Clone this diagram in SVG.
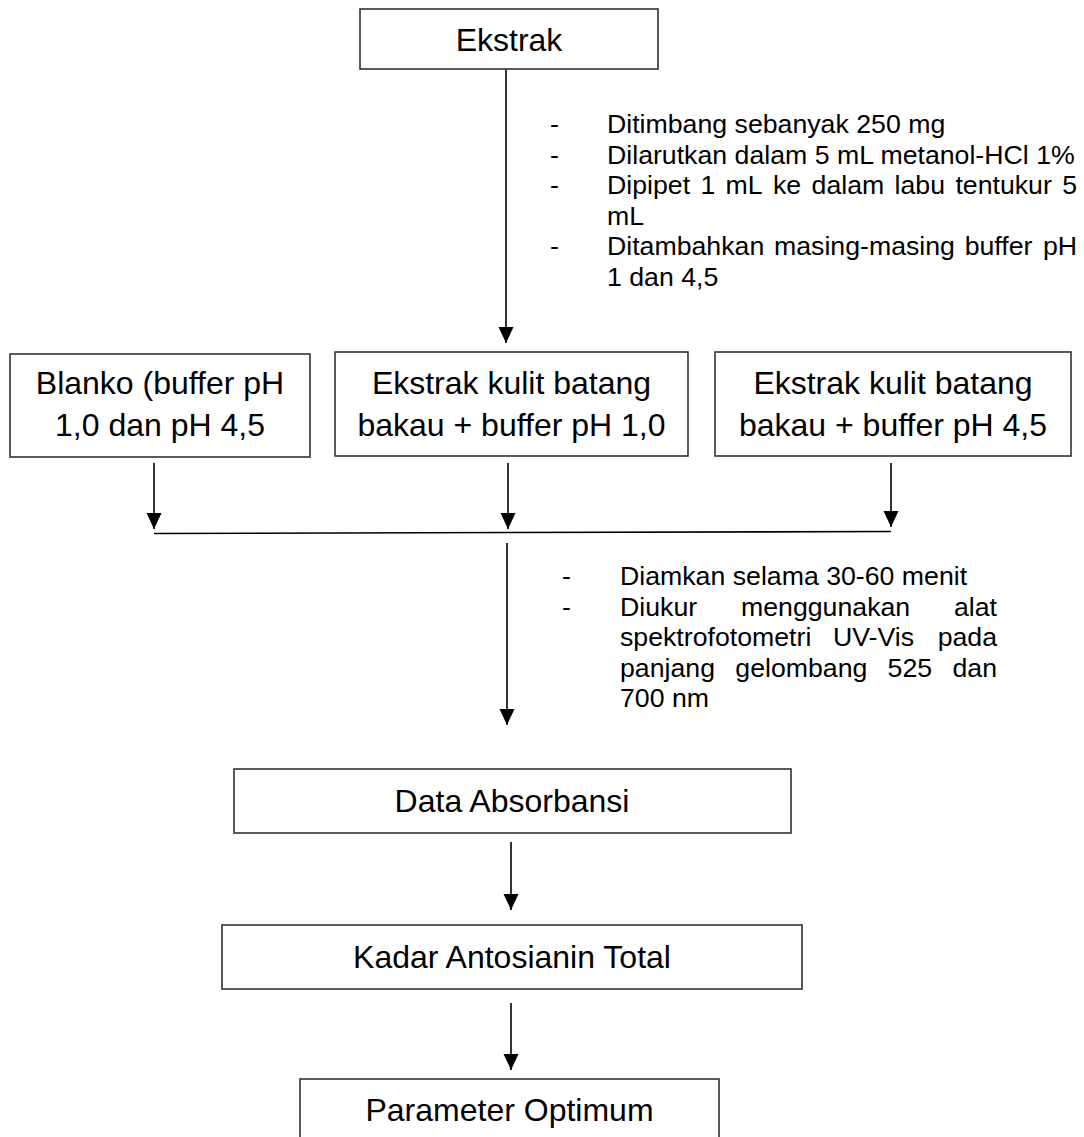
<svg xmlns="http://www.w3.org/2000/svg" width="1084" height="1137" viewBox="0 0 1084 1137">
<style>
.box{fill:#fff;stroke:#333;stroke-width:1.6}
.bt{font-family:"Liberation Sans",Arial,sans-serif;font-size:32px;fill:#000;text-anchor:middle}
.lt{font-family:"Liberation Sans",Arial,sans-serif;font-size:26.7px;fill:#000}
.ln{stroke:#000;stroke-width:1.6;fill:none}
.ar{stroke:#000;stroke-width:1.6;fill:none;marker-end:url(#ah)}
</style>
<defs>
<marker id="ah" markerUnits="userSpaceOnUse" markerWidth="16" markerHeight="16" refX="16" refY="7.5" orient="auto">
<path d="M0,0 L16,7.5 L0,15 z" fill="#000"/>
</marker>
</defs>
<rect width="1084" height="1137" fill="#fff"/>
<g id="connectors">
<line class="ar" x1="506" y1="69" x2="506" y2="343"/>
<line class="ar" x1="154" y1="463" x2="154" y2="529"/>
<line class="ar" x1="508" y1="463" x2="508" y2="529"/>
<line class="ar" x1="891" y1="463" x2="891" y2="527"/>
<line class="ln" x1="154" y1="533.5" x2="891" y2="531.5" stroke-width="2"/>
<line class="ar" x1="507" y1="543" x2="507" y2="725"/>
<line class="ar" x1="511" y1="842" x2="511" y2="910"/>
<line class="ar" x1="511" y1="1003" x2="511" y2="1070"/>
</g>
<g id="node-ekstrak">
<rect class="box" x="360" y="9" width="298" height="60"/>
<text class="bt" x="509" y="51">Ekstrak</text>
</g>
<g id="notes-1" class="lt">
<text x="550" y="133">-</text><text x="607" y="133">Ditimbang sebanyak 250 mg</text>
<text x="550" y="164">-</text><text x="607" y="164">Dilarutkan dalam 5 mL metanol-HCl 1%</text>
<text x="550" y="194">-</text>
<text y="194"><tspan x="607">Dipipet</tspan><tspan x="700.4">1</tspan><tspan x="725.6">mL</tspan><tspan x="773">ke</tspan><tspan x="811.6">dalam</tspan><tspan x="894.6">labu</tspan><tspan x="955.4">tentukur</tspan><tspan x="1062.2">5</tspan></text>
<text x="607" y="225">mL</text>
<text x="550" y="255">-</text>
<text y="255"><tspan x="607">Ditambahkan</tspan><tspan x="774">masing-masing</tspan><tspan x="964.7">buffer</tspan><tspan x="1042.9">pH</tspan></text>
<text x="607" y="286">1 dan 4,5</text>
</g>
<g id="node-blanko">
<rect class="box" x="10" y="354" width="300" height="103"/>
<text class="bt" x="160" y="394">Blanko (buffer pH</text>
<text class="bt" x="160" y="436">1,0 dan pH 4,5</text>
</g>
<g id="node-ph1">
<rect class="box" x="335" y="352" width="353" height="104"/>
<text class="bt" x="511.5" y="394">Ekstrak kulit batang</text>
<text class="bt" x="511.5" y="436">bakau + buffer pH 1,0</text>
</g>
<g id="node-ph45">
<rect class="box" x="715" y="352" width="356" height="104"/>
<text class="bt" x="893" y="394">Ekstrak kulit batang</text>
<text class="bt" x="893" y="436">bakau + buffer pH 4,5</text>
</g>
<g id="notes-2" class="lt">
<text x="562" y="585">-</text><text x="620" y="585">Diamkan selama 30-60 menit</text>
<text x="562" y="616">-</text>
<text y="616"><tspan x="620">Diukur</tspan><tspan x="741">menggunakan</tspan><tspan x="997" text-anchor="end">alat</tspan></text>
<text y="646"><tspan x="620">spektrofotometri</tspan><tspan x="833">UV-Vis</tspan><tspan x="997" text-anchor="end">pada</tspan></text>
<text y="677"><tspan x="620">panjang</tspan><tspan x="735.3">gelombang</tspan><tspan x="887.6">525</tspan><tspan x="997" text-anchor="end">dan</tspan></text>
<text x="620" y="707">700 nm</text>
</g>
<g id="node-data">
<rect class="box" x="234" y="769" width="557" height="64"/>
<text class="bt" x="512" y="812">Data Absorbansi</text>
</g>
<g id="node-kadar">
<rect class="box" x="222" y="925" width="580" height="64"/>
<text class="bt" x="512" y="968">Kadar Antosianin Total</text>
</g>
<g id="node-parameter">
<rect class="box" x="300" y="1079" width="419" height="70"/>
<text class="bt" x="509.5" y="1121">Parameter Optimum</text>
</g>
</svg>
